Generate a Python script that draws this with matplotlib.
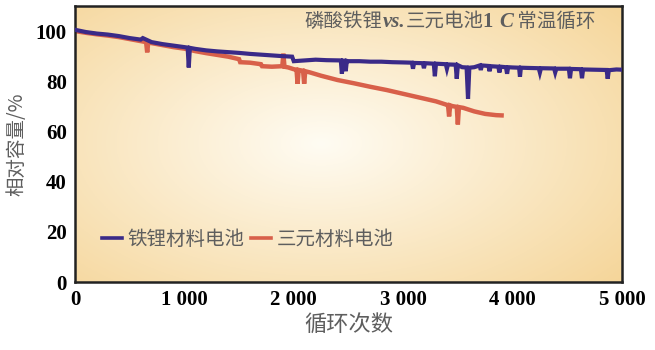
# LFP vs NCM cycle life, 1C room temperature
import numpy as np
from matplotlib import pyplot as plt

plt.rcParams['font.family'] = ['Noto Sans CJK SC', 'DejaVu Sans']

# 铁锂材料电池 (cycle, capacity %), dips typed in as they appear
lfp_x = [0, 100, 200, 300, 400, 500, 600, 620, 700, 800, 900, 1000,
         1030, 1040, 1050, 1100, 1200, 1300, 1400, 1500, 1600, 1700, 1800,
         1900, 1985, 2000, 2100, 2200, 2300, 2430, 2440, 2450, 2465, 2475,
         2485, 2500, 2600, 2700, 2800, 2900, 3000, 3080, 3090, 3100, 3180,
         3190, 3200, 3280, 3290, 3300, 3390, 3400, 3410, 3480, 3490, 3500,
         3540, 3580, 3593, 3605, 3650, 3700, 3710, 3720, 3780, 3790, 3800,
         3870, 3880, 3890, 3940, 3950, 3960, 4000, 4060, 4068, 4076, 4150,
         4240, 4250, 4260, 4380, 4390, 4400, 4515, 4525, 4535, 4625, 4635,
         4645, 4750, 4860, 4870, 4880, 4950, 5000]
lfp_y = [100.5, 99.6, 99.0, 98.6, 98.0, 97.2, 96.6, 97.2, 95.6, 94.8, 94.2, 93.6,
         93.4, 85.5, 93.3, 92.9, 92.3, 91.9, 91.6, 91.3, 90.9, 90.6, 90.3,
         90.0, 89.8, 88.0, 88.3, 88.6, 88.4, 88.3, 83.0, 88.2, 88.2, 84.0,
         88.1, 88.0, 88.0, 87.8, 87.8, 87.6, 87.5, 87.4, 85.0, 87.3, 87.2,
         85.2, 87.2, 87.0, 82.0, 87.0, 86.8, 85.0, 86.7, 86.6, 81.0, 86.4,
         85.6, 85.5, 73.0, 85.4, 85.6, 86.3, 84.5, 86.3, 86.1, 84.0, 86.0,
         85.8, 83.5, 85.8, 85.6, 83.0, 85.6, 85.5, 85.4, 81.8, 85.4, 85.3,
         85.2, 83.5, 85.2, 85.1, 83.5, 85.0, 85.0, 81.2, 84.9, 84.8, 81.2,
         84.7, 84.6, 84.5, 81.0, 84.4, 84.7, 84.6]

# 三元材料电池
ncm_x = [0, 100, 200, 300, 400, 500, 600, 650, 660, 670, 700, 800, 900,
         1000, 1100, 1200, 1300, 1400, 1500, 1510, 1600, 1700, 1710, 1800,
         1895, 1905, 1915, 1950, 2000, 2025, 2035, 2045, 2070, 2085, 2095,
         2105, 2150, 2250, 2400, 2550, 2700, 2850, 3000, 3150, 3300, 3400,
         3410, 3420, 3430, 3450, 3490, 3500, 3510, 3550, 3650, 3750, 3850,
         3900]
ncm_y = [100.0, 99.3, 98.7, 98.2, 97.6, 96.8, 96.0, 95.6, 91.5, 95.5, 95.2,
         94.4, 93.6, 93.0, 92.0, 91.2, 90.5, 89.8, 88.8, 87.6, 87.4, 86.8,
         86.0, 85.8, 86.0, 91.0, 85.8, 85.5, 84.8, 84.6, 79.0, 84.5, 84.3,
         84.2, 79.0, 84.0, 83.5, 82.2, 80.5, 79.2, 77.8, 76.5, 75.0, 73.5,
         72.0, 70.6, 70.5, 66.0, 70.4, 70.1, 69.8, 62.8, 69.7, 69.4, 68.0,
         67.0, 66.5, 66.4]

xticks = [0, 1000, 2000, 3000, 4000, 5000]
xtick_labels = ['0', '1 000', '2 000', '3 000', '4 000', '5 000']
yticks = [0, 20, 40, 60, 80, 100]

fig = plt.figure(figsize=(6.55, 3.5), dpi=100)
ax = fig.add_axes([0.1145, 0.194, 0.835, 0.789])

# radial light-centre background
gx, gy = np.meshgrid(np.linspace(0, 1, 300), np.linspace(0, 1, 200))
r = np.sqrt(((gx - 0.45) / 0.75) ** 2 + ((gy - 0.5) / 0.8) ** 2)
r = np.clip(r, 0, 1)[..., None]
inner = np.array([255, 252, 243]) / 255.
outer = np.array([245, 212, 150]) / 255.
bg = inner * (1 - r) + outer * r
ax.imshow(bg, extent=(0, 1, 0, 1), transform=ax.transAxes, aspect='auto',
          origin='lower', zorder=0)

blue = '#3a2a88'
red = '#d8604a'
ax.plot(lfp_x, lfp_y, color=blue, lw=3.0, solid_joinstyle='miter', zorder=3,
        label='铁锂材料电池')
ax.plot(ncm_x, ncm_y, color=red, lw=3.2, solid_joinstyle='miter', zorder=2,
        label='三元材料电池')

ax.set_xlim(0, 5000)
ax.set_ylim(0, 110)
ax.set_xticks(xticks)
ax.set_xticklabels(xtick_labels)
ax.set_yticks(yticks)
ax.tick_params(length=0, pad=6)
for lab in ax.get_xticklabels() + ax.get_yticklabels():
    lab.set_fontfamily('Liberation Serif')
    lab.set_fontweight('bold')
    lab.set_fontsize(15)
for s in ax.spines.values():
    s.set_linewidth(1.8)
    s.set_color('#222222')

gray = '#5e5e5e'
ax.set_xlabel('循环次数', fontsize=16, color=gray, labelpad=2)
ax.set_ylabel('相对容量/%', fontsize=14, color=gray, labelpad=6)

leg = ax.legend(loc='center left', bbox_to_anchor=(0.025, 0.155), ncol=2,
                frameon=False, fontsize=14, handlelength=1.0, handletextpad=0.3,
                columnspacing=0.35, borderpad=0.2)
for t in leg.get_texts():
    t.set_color(gray)
for h in leg.get_lines():
    h.set_linewidth(2.6)

# title built from pieces so vs. and C can be bold italic
pieces = [('磷酸铁锂', 'Noto Sans CJK SC', 'normal', 'normal'),
          ('vs.', 'Liberation Serif', 'bold', 'italic'),
          ('三元电池', 'Noto Sans CJK SC', 'normal', 'normal'),
          ('1 ', 'Liberation Serif', 'bold', 'normal'),
          ('C', 'Liberation Serif', 'bold', 'italic'),
          (' 常温循环', 'Noto Sans CJK SC', 'normal', 'normal')]
prev = None
for txt, fam, wt, st in pieces:
    size = 14 if fam == 'Noto Sans CJK SC' else 15
    if prev is None:
        prev = ax.text(0.42, 0.925, txt, transform=ax.transAxes, fontsize=size,
                       family=fam, weight=wt, style=st, color=gray,
                       va='baseline', ha='left', zorder=5)
    else:
        prev = ax.annotate(txt, xy=(1, 0), xycoords=prev, fontsize=size,
                           family=fam, weight=wt, style=st, color=gray,
                           va='bottom', ha='left', zorder=5)

fig.savefig('out.png', dpi=100)
